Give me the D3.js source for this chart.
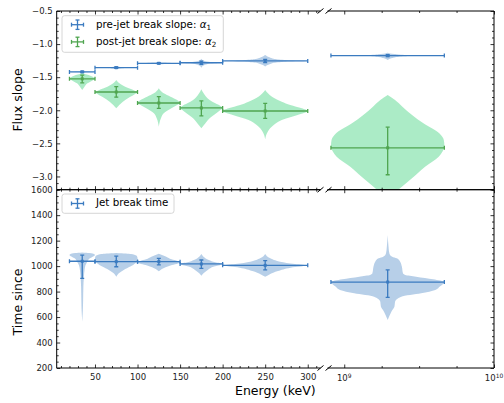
<!DOCTYPE html>
<html><head><meta charset="utf-8">
<script src="https://cdn.jsdelivr.net/npm/d3@7"></script>
<style>body{margin:0;background:#fff} svg{display:block} text{font-family:"DejaVu Sans",sans-serif}</style>
</head><body><svg id="c" width="504" height="403"></svg>
<script>
// ---------------- DATA ----------------
const binLo  = [20, 50, 100, 150, 200];
const binHi  = [50, 100, 150, 200, 300];
const binMid = [35, 75, 125, 175, 250];
const teraLo = 8.15e8, teraHi = 4.66e9, teraMid = 1.95e9;   // right (broken) panel bin

// pre-jet break slope alpha1 (5 keV bins + right bin last)
const alpha1      = [-1.420, -1.356, -1.290, -1.282, -1.255, -1.174];
const alpha1ErrLo = [0.010, 0.010, 0.010, 0.025, 0.025, 0.015];
const alpha1ErrHi = [0.010, 0.010, 0.010, 0.025, 0.025, 0.015];
// post-jet break slope alpha2
const alpha2      = [-1.525, -1.724, -1.890, -1.965, -2.011, -2.567];
const alpha2ErrLo = [0.060, 0.078, 0.080, 0.121, 0.111, 0.407];
const alpha2ErrHi = [0.055, 0.082, 0.095, 0.106, 0.116, 0.312];
// jet break time
const tBreak      = [1038, 1035, 1035, 1017, 1006, 875];
const tBreakErrLo = [134, 40, 26, 34, 36, 120];
const tBreakErrHi = [49, 44, 26, 31, 37, 95];

// violin profiles: [value, relative half-width]
const violinA1 = [
  [[-1.405,0],[-1.413,0.35],[-1.420,1],[-1.427,0.35],[-1.435,0]],
  [[-1.330,0],[-1.345,0.2],[-1.352,0.5],[-1.356,1],[-1.360,0.5],[-1.367,0.2],[-1.380,0]],
  [[-1.270,0],[-1.280,0.25],[-1.286,0.6],[-1.290,1],[-1.294,0.6],[-1.300,0.25],[-1.310,0]],
  [[-1.220,0],[-1.250,0.12],[-1.265,0.35],[-1.275,0.7],[-1.282,1],[-1.290,0.6],[-1.300,0.3],[-1.325,0.1],[-1.360,0]],
  [[-1.165,0],[-1.200,0.1],[-1.225,0.22],[-1.240,0.45],[-1.250,0.85],[-1.255,1],[-1.262,0.6],[-1.275,0.3],[-1.300,0.12],[-1.340,0]],
  [[-1.130,0],[-1.150,0.12],[-1.163,0.3],[-1.170,0.6],[-1.174,1],[-1.180,0.4],[-1.190,0.2],[-1.210,0.08],[-1.240,0]]
];
const violinA2 = [
  [[-1.441,0],[-1.460,0.35],[-1.477,0.64],[-1.500,0.88],[-1.525,1],[-1.550,0.8],[-1.593,0.41],[-1.643,0.18],[-1.694,0]],
  [[-1.542,0],[-1.580,0.1],[-1.618,0.27],[-1.668,0.59],[-1.700,0.85],[-1.724,1],[-1.760,0.85],[-1.794,0.66],[-1.870,0.31],[-1.920,0.14],[-1.970,0]],
  [[-1.668,0],[-1.710,0.1],[-1.744,0.23],[-1.794,0.55],[-1.845,0.86],[-1.890,1],[-1.930,0.8],[-1.970,0.59],[-2.046,0.23],[-2.121,0.1],[-2.247,0]],
  [[-1.683,0],[-1.720,0.06],[-1.769,0.16],[-1.845,0.39],[-1.895,0.66],[-1.935,0.9],[-1.965,1],[-2.000,0.88],[-2.046,0.7],[-2.121,0.39],[-2.197,0.19],[-2.273,0]],
  [[-1.694,0],[-1.794,0.16],[-1.870,0.39],[-1.920,0.59],[-1.970,0.86],[-2.011,1],[-2.071,0.76],[-2.147,0.39],[-2.222,0.2],[-2.323,0.06],[-2.439,0]],
  [[-1.769,0],[-1.845,0.13],[-1.945,0.26],[-2.071,0.43],[-2.197,0.63],[-2.348,0.91],[-2.450,0.99],[-2.540,1],[-2.620,0.97],[-2.701,0.9],[-2.852,0.66],[-3.003,0.46],[-3.154,0.25],[-3.300,0.05],[-3.350,0]]
];
const violinT = [
  [[1106,0],[1102,0.55],[1095,0.92],[1087,1],[1075,0.85],[1061,0.6],[1035,0.4],[1009,0.26],[970,0.18],[917,0.13],[839,0.09],[734,0.07],[655,0.05],[564,0]],
  [[1103,0],[1099,0.45],[1095,0.7],[1087,0.88],[1079,0.97],[1060,1],[1048,1],[1022,0.9],[996,0.66],[970,0.35],[943,0.12],[917,0]],
  [[1097,0],[1085,0.18],[1074,0.35],[1053,0.6],[1040,0.88],[1030,1],[1020,0.9],[1008,0.62],[996,0.42],[983,0.22],[970,0.08],[960,0]],
  [[1095,0],[1074,0.1],[1048,0.35],[1030,0.65],[1017,1],[1005,0.8],[996,0.6],[970,0.3],[943,0.1],[925,0]],
  [[1095,0],[1061,0.12],[1035,0.35],[1017,0.7],[1006,1],[988,0.6],[962,0.3],[935,0.1],[917,0]],
  [[1244,0],[1153,0.015],[1100,0.03],[1074,0.08],[1061,0.16],[1035,0.22],[996,0.25],[943,0.27],[930,0.31],[917,0.5],[896,0.8],[875,1],[839,0.92],[812,0.84],[786,0.59],[760,0.24],[721,0.13],[682,0.12],[642,0.065],[577,0]]
];

// axis ticks
const xMajor = [50, 100, 150, 200, 250, 300];
const xMinor = d3.range(10, 315, 10).filter(v => v % 50 !== 0);
const xRMajor = [1e9, 1e10];
const xRMinor = [Math.pow(10, 9.25), Math.pow(10, 9.5), Math.pow(10, 9.75)];
const yTopMajor = [-3.0, -2.5, -2.0, -1.5, -1.0, -0.5];
const yTopMinor = d3.range(-32, -4, 1).map(v => v / 10).filter(v => Math.abs(v * 2 - Math.round(v * 2)) > 1e-6);
const yBotMajor = [200, 400, 600, 800, 1000, 1200, 1400, 1600];
const yBotMinor = d3.range(250, 1600, 50).filter(v => v % 200 !== 0);

// ---------------- LAYOUT ----------------
const W = 504, H = 403;
const xL = d3.scaleLinear().domain([5, 315]).range([56.7, 320.5]);
const xR = d3.scaleLog().domain([7.73e8, 1e10]).range([327.5, 494]);
const yT = d3.scaleLinear().domain([-3.2, -0.5]).range([189.7, 11]);
const yB = d3.scaleLinear().domain([200, 1600]).range([368, 189.7]);

const blueLine = "#3b7bc0", blueFill = "#4a86c5";
const greenLine = "#4fa54f", greenFill = "#2ecc71";

const svg = d3.select("#c");
svg.append("rect").attr("width", W).attr("height", H).attr("fill", "#fff");
const defs = svg.append("defs");
function clip(id, x0, x1, y0, y1) {
  defs.append("clipPath").attr("id", id).append("rect")
    .attr("x", x0).attr("y", y0).attr("width", x1 - x0).attr("height", y1 - y0);
  return svg.append("g").attr("clip-path", `url(#${id})`);
}
const gTL = clip("cTL", xL.range()[0], xL.range()[1], yT.range()[1], yT.range()[0]);
const gTR = clip("cTR", xR.range()[0], xR.range()[1], yT.range()[1], yT.range()[0]);
const gBL = clip("cBL", xL.range()[0], xL.range()[1], yB.range()[1], yB.range()[0]);
const gBR = clip("cBR", xR.range()[0], xR.range()[1], yB.range()[1], yB.range()[0]);

function drawViolin(g, prof, cx, half, ys, fill, op) {
  const area = d3.area()
    .y(d => ys(d[0]))
    .x0(d => cx - Math.max(0, d[1]) * half)
    .x1(d => cx + Math.max(0, d[1]) * half)
    .curve(d3.curveMonotoneY);
  g.append("path").datum(prof).attr("d", area).attr("fill", fill).attr("fill-opacity", op).attr("stroke", "none");
}
function drawErr(g, cx, x0, x1, ys, v, eLo, eHi, color) {
  const y = ys(v), ya = ys(v - eLo), yb = ys(v + eHi), c = 2;
  const e = g.append("g").attr("stroke", color).attr("stroke-width", 1.3).attr("fill", "none");
  e.append("line").attr("x1", x0).attr("x2", x1).attr("y1", y).attr("y2", y);
  e.append("line").attr("x1", x0).attr("x2", x0).attr("y1", y - c).attr("y2", y + c);
  e.append("line").attr("x1", x1).attr("x2", x1).attr("y1", y - c).attr("y2", y + c);
  e.append("line").attr("x1", cx).attr("x2", cx).attr("y1", ya).attr("y2", yb);
  e.append("line").attr("x1", cx - c).attr("x2", cx + c).attr("y1", ya).attr("y2", ya);
  e.append("line").attr("x1", cx - c).attr("x2", cx + c).attr("y1", yb).attr("y2", yb);
  g.append("rect").attr("x", cx - 1.5).attr("y", y - 1.5).attr("width", 3).attr("height", 3).attr("fill", color);
}

function drawSeries(gl, gr, ys, vals, eLo, eHi, viol, line, fill, op) {
  for (let i = 0; i < 5; i++) {
    const cx = xL(binMid[i]), half = (xL(binHi[i]) - xL(binLo[i])) / 2;
    drawViolin(gl, viol[i], cx, half, ys, fill, op);
  }
  const cxr = xR(teraMid), halfr = (xR(teraHi) - xR(teraLo)) / 2;
  drawViolin(gr, viol[5], cxr, halfr, ys, fill, op);
  for (let i = 0; i < 5; i++) drawErr(gl, xL(binMid[i]), xL(binLo[i]), xL(binHi[i]), ys, vals[i], eLo[i], eHi[i], line);
  drawErr(gr, cxr, xR(teraLo), xR(teraHi), ys, vals[5], eLo[5], eHi[5], line);
}
drawSeries(gTL, gTR, yT, alpha1, alpha1ErrLo, alpha1ErrHi, violinA1, blueLine, blueFill, 0.4);
drawSeries(gTL, gTR, yT, alpha2, alpha2ErrLo, alpha2ErrHi, violinA2, greenLine, greenFill, 0.4);
drawSeries(gBL, gBR, yB, tBreak, tBreakErrLo, tBreakErrHi, violinT, blueLine, blueFill, 0.4);

// ---------------- AXES ----------------
const FS = 8.5;
function axis(gen, scale, vals, size, fmt, pad, tx, ty) {
  const a = gen(scale).tickValues(vals).tickSize(size).tickPadding(pad).tickFormat(fmt || (() => ""));
  const g = svg.append("g").attr("transform", `translate(${tx},${ty})`).call(a);
  g.select(".domain").remove();
  g.attr("font-family", "DejaVu Sans").attr("font-size", FS);
  g.selectAll("line").attr("stroke", "#000").attr("stroke-width", 0.8);
  g.selectAll("text").attr("fill", "#222");
  return g;
}
const fmtT = d3.format(".1f"), fmtB = d3.format("d");
const yTop0 = yT.range()[1], yMid = yT.range()[0], yBot0 = yB.range()[0];
const xL0 = xL.range()[0], xL1 = xL.range()[1], xR0 = xR.range()[0], xR1 = xR.range()[1];

// top panel
axis(d3.axisLeft, yT, yTopMajor, -3.5, fmtT, 4, xL0, 0);
axis(d3.axisLeft, yT, yTopMinor, -2, null, 4, xL0, 0);
axis(d3.axisRight, yT, yTopMajor, -3.5, null, 4, xR1, 0);
axis(d3.axisRight, yT, yTopMinor, -2, null, 4, xR1, 0);
// bottom panel
axis(d3.axisLeft, yB, yBotMajor, -3.5, fmtB, 4, xL0, 0);
axis(d3.axisLeft, yB, yBotMinor, -2, null, 4, xL0, 0);
axis(d3.axisRight, yB, yBotMajor, -3.5, null, 4, xR1, 0);
axis(d3.axisRight, yB, yBotMinor, -2, null, 4, xR1, 0);
// x axes: top of top panel, shared line, bottom
for (const [gen, yy] of [[d3.axisTop, yTop0], [d3.axisBottom, yMid], [d3.axisTop, yMid], [d3.axisBottom, yBot0]]) {
  const lab = (gen === d3.axisBottom && yy === yBot0);
  axis(gen, xL, xMajor, -3.5, lab ? fmtB : null, 6, 0, yy);
  axis(gen, xL, xMinor, -2, null, 6, 0, yy);
  axis(gen, xR, xRMajor, -3.5, null, 6, 0, yy);
  axis(gen, xR, xRMinor, -2, null, 6, 0, yy);
}
// log labels
for (const v of xRMajor) {
  const t = svg.append("text").attr("x", xR(v)).attr("y", 381).attr("text-anchor", "middle")
    .attr("font-size", FS).attr("fill", "#222");
  t.append("tspan").text("10");
  t.append("tspan").attr("dy", -3.5).attr("font-size", FS * 0.7).text(String(Math.round(Math.log10(v))));
}

// spines
const sp = svg.append("g").attr("stroke", "#000").attr("stroke-width", 1).attr("fill", "none");
for (const [a, b] of [[yTop0, yMid], [yMid, yBot0]]) {
  sp.append("path").attr("d", `M${xL1},${a}H${xL0}V${b}H${xL1}`);
  sp.append("path").attr("d", `M${xR0},${a}H${xR1}V${b}H${xR0}`);
}
// break marks
for (const yy of [yTop0, yMid, yBot0]) for (const xx of [xL1, xR0 + 1]) {
  sp.append("line").attr("x1", xx - 3).attr("y1", yy + 2.5).attr("x2", xx + 3).attr("y2", yy - 2.5);
}

// labels
svg.append("text").attr("transform", "translate(21.8,100) rotate(-90)").attr("text-anchor", "middle")
  .attr("font-size", 12.5).attr("fill", "#000").text("Flux slope");
svg.append("text").attr("transform", "translate(21.8,302) rotate(-90)").attr("text-anchor", "middle")
  .attr("font-size", 12.5).attr("fill", "#000").text("Time since");
svg.append("text").attr("x", 275.3).attr("y", 395).attr("text-anchor", "middle")
  .attr("font-size", 12.5).attr("fill", "#000").text("Energy (keV)");

// legends
function legendMarker(cx, cy, color) {
  const g = svg.append("g").attr("stroke", color).attr("stroke-width", 1.3);
  g.append("line").attr("x1", cx - 6).attr("x2", cx + 6).attr("y1", cy).attr("y2", cy);
  g.append("line").attr("x1", cx - 6).attr("x2", cx - 6).attr("y1", cy - 2).attr("y2", cy + 2);
  g.append("line").attr("x1", cx + 6).attr("x2", cx + 6).attr("y1", cy - 2).attr("y2", cy + 2);
  g.append("line").attr("x1", cx).attr("x2", cx).attr("y1", cy - 4.7).attr("y2", cy + 4.7);
  g.append("line").attr("x1", cx - 2).attr("x2", cx + 2).attr("y1", cy - 4.7).attr("y2", cy - 4.7);
  g.append("line").attr("x1", cx - 2).attr("x2", cx + 2).attr("y1", cy + 4.7).attr("y2", cy + 4.7);
}
const LF = 10.3;
svg.append("rect").attr("x", 62).attr("y", 15.7).attr("width", 161.3).attr("height", 36.6).attr("rx", 2.5)
  .attr("fill", "#fff").attr("fill-opacity", 0.8).attr("stroke", "#cccccc").attr("stroke-width", 0.8);
const legTop = [["pre-jet break slope: ", "1", blueLine, 24.7], ["post-jet break slope: ", "2", greenLine, 41.9]];
for (const [lab, sub, col, cy] of legTop) {
  legendMarker(77.5, cy, col);
  const t = svg.append("text").attr("x", 96).attr("y", cy + 2.9).attr("font-size", LF).attr("fill", "#000");
  t.append("tspan").text(lab);
  t.append("tspan").attr("font-style", "italic").text("α");
  t.append("tspan").attr("font-size", LF * 0.7).attr("dy", 2).text(sub);
}
svg.append("rect").attr("x", 62).attr("y", 194).attr("width", 112).attr("height", 19.3).attr("rx", 2.5)
  .attr("fill", "#fff").attr("fill-opacity", 0.8).attr("stroke", "#cccccc").attr("stroke-width", 0.8);
legendMarker(77.5, 203.5, blueLine);
svg.append("text").attr("x", 96).attr("y", 206.4).attr("font-size", LF).attr("fill", "#000").text("Jet break time");
</script></body></html>
